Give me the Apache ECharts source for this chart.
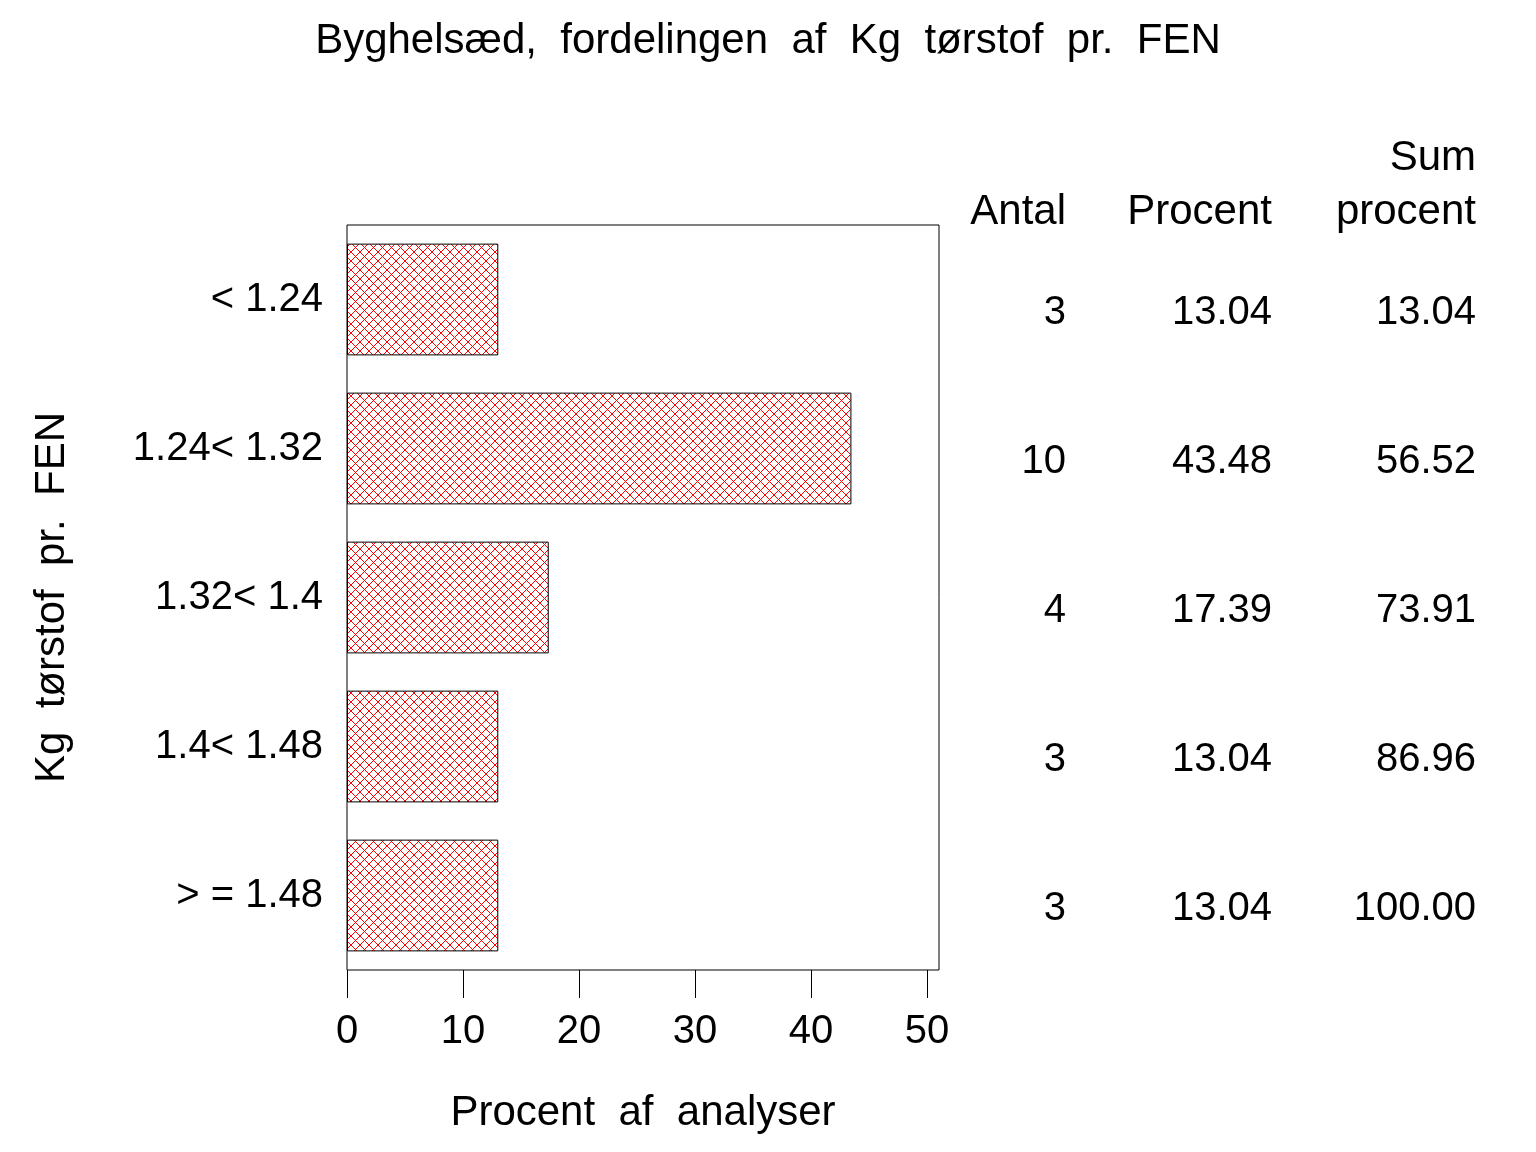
<!DOCTYPE html>
<html>
<head>
<meta charset="utf-8">
<script src="https://cdn.jsdelivr.net/npm/echarts@6/dist/echarts.min.js"></script>
<style>html,body{margin:0;padding:0;background:#fff;}#c{width:1536px;height:1152px;}</style>
</head>
<body>
<div id="c"></div>
<script>
const categories = ['< 1.24', '1.24< 1.32', '1.32< 1.4', '1.4< 1.48', '> = 1.48'];
const antal = [3, 10, 4, 3, 3];
const procent = [13.04, 43.48, 17.39, 13.04, 13.04];
const sumProcent = [13.04, 56.52, 73.91, 86.96, 100.00];
const xTicks = [0, 10, 20, 30, 40, 50];

const FONT = 'Liberation Sans, Arial, sans-serif';

function hatch() {
  const s = 9;
  const c = document.createElement('canvas');
  c.width = s; c.height = s;
  const g = c.getContext('2d');
  g.fillStyle = '#fff';
  g.fillRect(0, 0, s, s);
  g.strokeStyle = '#ff0000';
  g.lineWidth = 1;
  g.beginPath();
  g.moveTo(0, 0); g.lineTo(s, s);
  g.moveTo(s, 0); g.lineTo(0, s);
  g.stroke();
  return c;
}

const chart = echarts.init(document.getElementById('c'));
const colAxis = (data, margin, fmt) => ({
  type: 'category', data: data, inverse: true, position: 'left', gridIndex: 1,
  axisLine: {show: false}, axisTick: {show: false}, splitLine: {show: false},
  axisLabel: {inside: true, margin: margin, align: 'right', color: '#000', fontSize: 40, fontFamily: FONT, formatter: fmt}
});

chart.setOption({
  animation: false,
  backgroundColor: '#fff',
  title: {
    text: 'Byghelsæd,  fordelingen  af  Kg  tørstof  pr.  FEN',
    left: 'center', top: 15,
    textStyle: {fontFamily: FONT, fontSize: 42, fontWeight: 'normal', color: '#000'}
  },
  grid: [
    {left: 347, top: 225, width: 592, height: 745, show: true, borderColor: '#000', borderWidth: 1,
     backgroundColor: 'transparent', outerBoundsMode: 'none', containLabel: false},
    {left: 939, top: 238, width: 560, height: 745, show: false, outerBoundsMode: 'none', containLabel: false}
  ],
  xAxis: [{
    type: 'value', min: 0, max: 51.03, gridIndex: 0,
    axisLine: {show: false},
    axisTick: {show: true, length: 28, customValues: xTicks, lineStyle: {color: '#000', width: 1}},
    axisLabel: {customValues: xTicks, margin: 42, color: '#000', fontSize: 40, fontFamily: FONT},
    splitLine: {show: false},
    name: 'Procent  af  analyser', nameLocation: 'middle', nameGap: 122,
    nameTextStyle: {fontSize: 42, fontFamily: FONT, color: '#000'}
  }, {
    type: 'value', gridIndex: 1, show: false
  }],
  yAxis: [
    {
      type: 'category', data: categories, inverse: true, gridIndex: 0,
      axisLine: {show: false}, axisTick: {show: false},
      axisLabel: {margin: 24, color: '#000', fontSize: 40, fontFamily: FONT},
      name: 'Kg  tørstof  pr.  FEN', nameLocation: 'middle', nameGap: 274, nameRotate: 90,
      nameTextStyle: {fontSize: 42, fontFamily: FONT, color: '#000'}
    },
    colAxis(antal, 127, v => String(v)),
    colAxis(procent, 333, v => Number(v).toFixed(2)),
    colAxis(sumProcent, 537, v => Number(v).toFixed(2))
  ],
  graphic: [
    {type: 'text', right: 1536 - 1066, top: 191, style: {text: 'Antal', font: '42px ' + FONT, fill: '#000', textAlign: 'right'}},
    {type: 'text', right: 1536 - 1272, top: 191, style: {text: 'Procent', font: '42px ' + FONT, fill: '#000', textAlign: 'right'}},
    {type: 'text', right: 1536 - 1476, top: 137, style: {text: 'Sum', font: '42px ' + FONT, fill: '#000', textAlign: 'right'}},
    {type: 'text', right: 1536 - 1476, top: 191, style: {text: 'procent', font: '42px ' + FONT, fill: '#000', textAlign: 'right'}}
  ],
  series: [{
    type: 'bar', data: procent, barCategoryGap: '25%', xAxisIndex: 0, yAxisIndex: 0,
    itemStyle: {color: {image: hatch(), repeat: 'repeat'}, borderColor: '#000', borderWidth: 1}
  }]
});
</script>
</body>
</html>
